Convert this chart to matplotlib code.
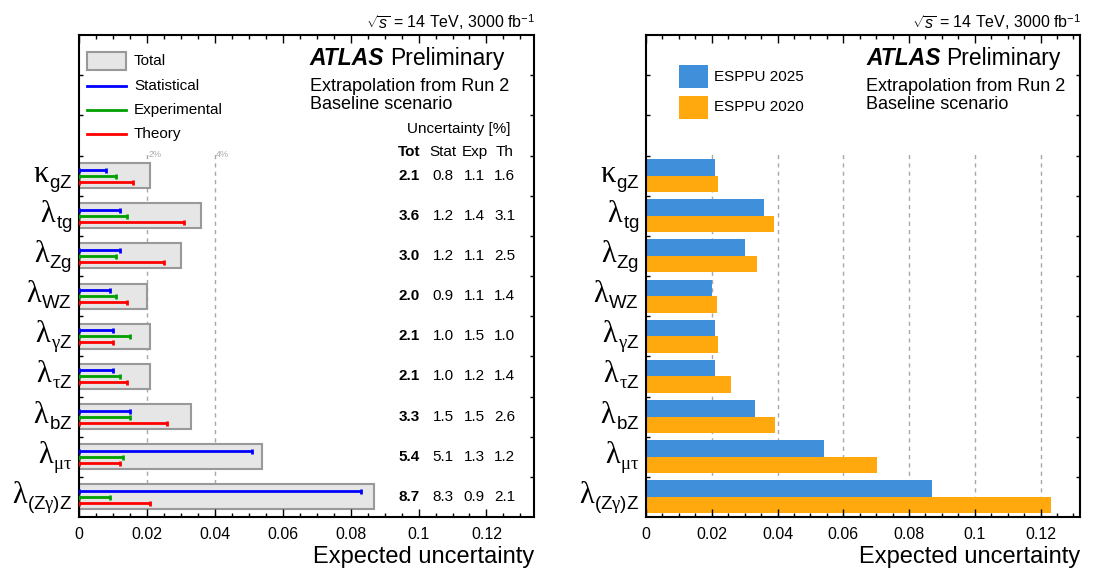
import numpy as np
import matplotlib
matplotlib.use("Agg")
import matplotlib.pyplot as plt
import matplotlib.transforms as mtransforms
from matplotlib.patches import Rectangle
from matplotlib.lines import Line2D

plt.rcParams.update({
    "font.family": "Liberation Sans",
    "mathtext.fontset": "custom",
    "mathtext.rm": "Liberation Sans",
    "mathtext.it": "Liberation Serif",
    "mathtext.bf": "Liberation Sans:bold",
    "mathtext.sf": "Liberation Sans:italic",
})

# ---- data (uncertainties in %, listed top to bottom) ----
# parameter names: main symbol and its subscript
param_symbols = ["κ", "λ", "λ", "λ", "λ", "λ", "λ", "λ", "λ"]
param_subscripts = [
    r"$\mathrm{gZ}$",
    r"$\mathrm{tg}$",
    r"$\mathrm{Zg}$",
    r"$\mathrm{WZ}$",
    r"$\gamma\mathrm{Z}$",
    r"$\tau\mathrm{Z}$",
    r"$\mathrm{bZ}$",
    r"$\mu\tau$",
    r"$\mathrm{(Z}\gamma\mathrm{)Z}$",
]
tot_unc = [2.1, 3.6, 3.0, 2.0, 2.1, 2.1, 3.3, 5.4, 8.7]
stat_unc = [0.8, 1.2, 1.2, 0.9, 1.0, 1.0, 1.5, 5.1, 8.3]
exp_unc = [1.1, 1.4, 1.1, 1.1, 1.5, 1.2, 1.5, 1.3, 0.9]
th_unc = [1.6, 3.1, 2.5, 1.4, 1.0, 1.4, 2.6, 1.2, 2.1]

# comparison of projections (absolute)
esppu2025 = [0.021, 0.036, 0.030, 0.020, 0.021, 0.021, 0.033, 0.054, 0.087]
esppu2020 = [0.0218, 0.0389, 0.0337, 0.0216, 0.0218, 0.0260, 0.0393, 0.0702, 0.1231]

xtick_vals = [0, 0.02, 0.04, 0.06, 0.08, 0.10, 0.12]
xtick_labels = ["0", "0.02", "0.04", "0.06", "0.08", "0.1", "0.12"]

n = len(param_symbols)
ypos = np.arange(n)[::-1].astype(float)

tot = np.array(tot_unc) / 100
stat = np.array(stat_unc) / 100
expe = np.array(exp_unc) / 100
theo = np.array(th_unc) / 100

W, H = 1094, 570
fig = plt.figure(figsize=(W / 100, H / 100), dpi=100)
axL = fig.add_axes([79 / W, 53 / H, 455 / W, 482 / H])
axR = fig.add_axes([646 / W, 53 / H, 434 / W, 482 / H])


def draw_param_labels(ax):
    for y, sym, sub in zip(ypos, param_symbols, param_subscripts):
        s = ax.annotate(sub, xy=(0, y), xycoords=("axes fraction", "data"),
                        xytext=(-5, -8.6), textcoords="offset points",
                        ha="right", va="baseline", fontsize=13.5, annotation_clip=False)
        ax.annotate(sym, xy=(0, y), xycoords=(s, "data"),
                    xytext=(-0.3, -4.3), textcoords="offset points",
                    ha="right", va="baseline", fontsize=22,
                    family="Liberation Serif", annotation_clip=False)


def style_axes(ax, xmax):
    ax.set_xlim(0, xmax)
    ax.set_ylim(-0.5, 11.5)
    ax.set_xticks(xtick_vals)
    ax.set_xticklabels(xtick_labels)
    ax.set_xticks(np.arange(0, xmax, 0.005), minor=True)
    ax.set_yticks(ypos)
    ax.set_yticklabels([])
    ax.set_yticks(np.arange(0.5, 11.0, 1.0), minor=True)
    ax.tick_params(axis="x", which="both", direction="in", top=True, bottom=True,
                   labelsize=11.5, pad=7)
    ax.tick_params(axis="x", which="major", length=6, width=1)
    ax.tick_params(axis="x", which="minor", length=3, width=1)
    ax.tick_params(axis="y", which="major", length=0)
    ax.tick_params(axis="y", which="minor", direction="in", length=3, width=1,
                   left=True, right=True)
    for s in ax.spines.values():
        s.set_linewidth(1.5)
    ax.set_xlabel("Expected uncertainty", fontsize=17, loc="right", labelpad=3)
    ax.text(1.002, 1.014, r"$\sqrt{\mathsf{s}}$ = 14 TeV, 3000 fb$^{-1}$",
            transform=ax.transAxes, ha="right", va="baseline", fontsize=11.5)
    atl = ax.text(0.507, 0.952, "ATLAS", transform=ax.transAxes, fontsize=16.5,
                  fontweight="bold", fontstyle="italic", va="center", ha="left")
    ax.annotate("Preliminary", xy=(1, 0), xycoords=atl, xytext=(4, 0),
                textcoords="offset points", fontsize=16.5, va="bottom", ha="left")
    ax.text(0.507, 0.894, "Extrapolation from Run 2", transform=ax.transAxes,
            fontsize=13, va="center", ha="left")
    ax.text(0.507, 0.855, "Baseline scenario", transform=ax.transAxes,
            fontsize=13, va="center", ha="left")
    draw_param_labels(ax)


grid_kw = dict(colors="#a8a8a8", linestyles=(0, (3, 3)), linewidth=1, zorder=0.5)

# ---- left: breakdown of uncertainties ----
style_axes(axL, 0.134)
axL.vlines([0.02, 0.04], -0.5, 8.62, **grid_kw)
for gx, gl in [(0.02, "2%"), (0.04, "4%")]:
    axL.text(gx + 0.0004, 8.52, gl, fontsize=6.5, color="#aaaaaa", va="center", ha="left")

axL.barh(ypos, tot, height=0.62, color="#e6e6e6", edgecolor="#999999", linewidth=1.5, zorder=1)
zeros = np.zeros(n)
for vals, off, col in [(stat, 0.15, "#0000ff"), (expe, 0.0, "#00a000"), (theo, -0.15, "#ff0000")]:
    axL.errorbar(zeros, ypos + off, xerr=[zeros, vals], fmt="none", ecolor=col,
                 elinewidth=2, capsize=1.8, capthick=2, zorder=3)

# legend
axL.add_patch(Rectangle((0.0176, 0.927), 0.0855, 0.038, transform=axL.transAxes,
                        facecolor="#e6e6e6", edgecolor="#999999", linewidth=1.5))
leg_items = [("Total", 0.946, None), ("Statistical", 0.894, "#0000ff"),
             ("Experimental", 0.844, "#00a000"), ("Theory", 0.795, "#ff0000")]
for lab, yy, col in leg_items:
    if col is not None:
        axL.add_line(Line2D([0.0176, 0.103], [yy, yy], transform=axL.transAxes,
                            color=col, linewidth=2))
    axL.text(0.121, yy, lab, transform=axL.transAxes, fontsize=11, va="center", ha="left")

# table of numbers
trans = mtransforms.blended_transform_factory(axL.transAxes, axL.transData)
col_x = [0.725, 0.80, 0.869, 0.936]
axL.text(0.835, 9.16, "Uncertainty [%]", transform=trans, fontsize=11, ha="center", va="center")
for cx, hd in zip(col_x, ["Tot", "Stat", "Exp", "Th"]):
    axL.text(cx, 8.59, hd, transform=trans, fontsize=11, ha="center", va="center",
             fontweight="bold" if hd == "Tot" else "normal")
for i in range(n):
    row = [tot_unc[i], stat_unc[i], exp_unc[i], th_unc[i]]
    for j, (cx, v) in enumerate(zip(col_x, row)):
        axL.text(cx, ypos[i], f"{v:.1f}", transform=trans, fontsize=11, ha="center",
                 va="center", fontweight="bold" if j == 0 else "normal")

# ---- right: comparison of projections ----
style_axes(axR, 0.132)
axR.vlines(xtick_vals[1:], -0.5, 8.55, **grid_kw)
c2025, c2020 = "#3f8fda", "#ffa90e"
axR.barh(ypos + 0.205, esppu2025, height=0.41, color=c2025, zorder=1)
axR.barh(ypos - 0.205, esppu2020, height=0.41, color=c2020, zorder=1)

axR.add_patch(Rectangle((0.076, 0.890), 0.067, 0.048, transform=axR.transAxes,
                        facecolor=c2025, edgecolor="none"))
axR.add_patch(Rectangle((0.076, 0.826), 0.067, 0.048, transform=axR.transAxes,
                        facecolor=c2020, edgecolor="none"))
axR.text(0.157, 0.913, "ESPPU 2025", transform=axR.transAxes, fontsize=11, va="center", ha="left")
axR.text(0.157, 0.851, "ESPPU 2020", transform=axR.transAxes, fontsize=11, va="center", ha="left")

fig.savefig("out.png", dpi=100)
